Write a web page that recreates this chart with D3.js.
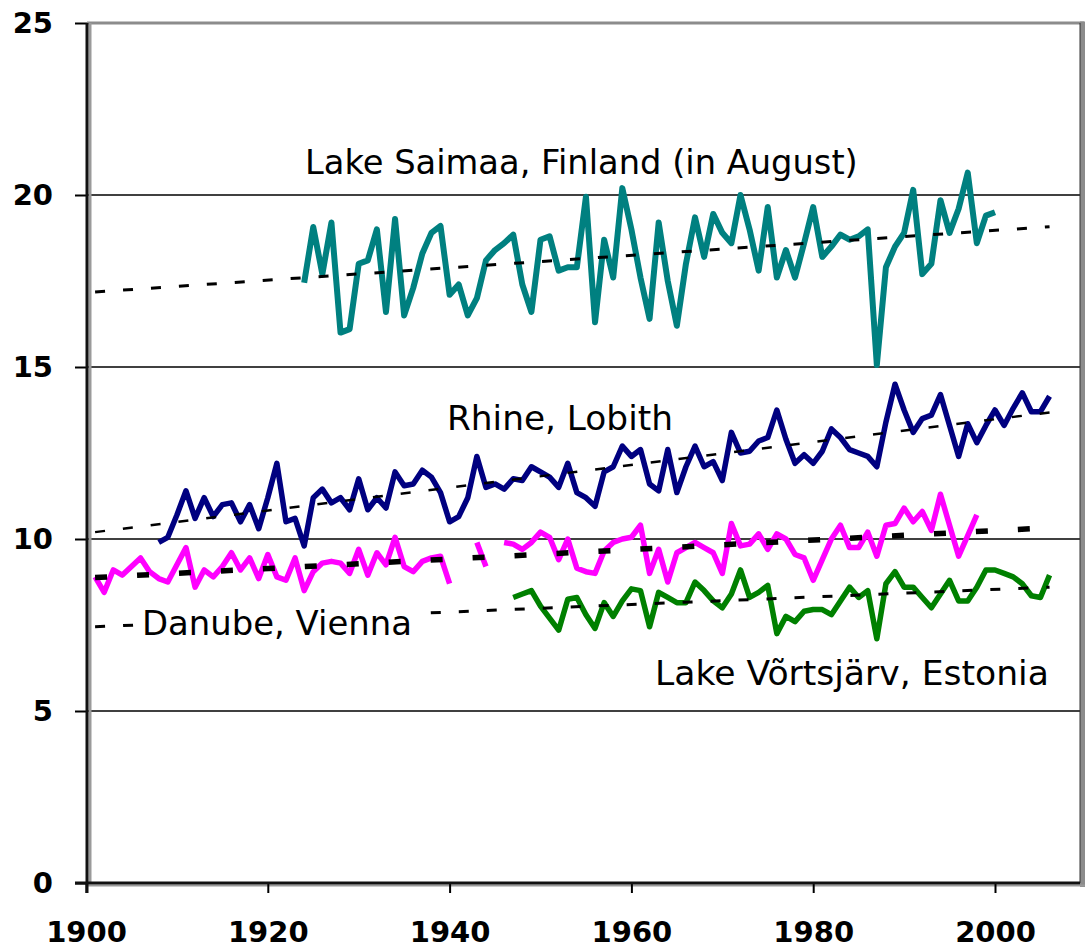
<!DOCTYPE html>
<html>
<head>
<meta charset="utf-8">
<script src="https://cdn.jsdelivr.net/npm/d3@7"></script>
<style>
  body { margin: 0; background: #fff; }
  svg { display: block; }
</style>
</head>
<body>
<svg id="chart" width="1089" height="950"></svg>
<script>
// Long-term water temperature records (°C) — yearly values, first year given separately
const saimaaStart = 1924; // Lake Saimaa, Finland (August)
const saimaaTemp = [
  17.45, 19.07, 17.7, 19.2, 16.0, 16.1, 18.0, 18.1, 19.0, 16.6,
  19.3, 16.5, 17.3, 18.3, 18.9, 19.1, 17.1, 17.4, 16.5, 17.0,
  18.1, 18.4, 18.6, 18.85, 17.4, 16.6, 18.7, 18.8, 17.8, 17.9,
  17.9, 19.95, 16.3, 18.7, 17.6, 20.2, 19.0, 17.6, 16.4, 19.2,
  17.5, 16.2, 18.0, 19.35, 18.2, 19.45, 18.9, 18.6, 20.0, 19.0,
  17.8, 19.65, 17.6, 18.4, 17.6, 18.6, 19.65, 18.2, 18.5, 18.85,
  18.7, 18.8, 19.0, 15.06, 17.9, 18.5, 18.9, 20.15, 17.7, 18.0,
  19.85, 18.9, 19.6, 20.65, 18.6, 19.4, 19.5
];

const rhineStart = 1908; // Rhine at Lobith
const rhineTemp = [
  9.9, 10.05, 10.7, 11.4, 10.6, 11.2, 10.65, 11.0, 11.05, 10.5,
  11.0, 10.3, 11.2, 12.2, 10.5, 10.6, 9.8, 11.2, 11.45, 11.05,
  11.2, 10.85, 11.75, 10.85, 11.2, 10.9, 11.95, 11.55, 11.6, 12.0,
  11.8, 11.35, 10.5, 10.65, 11.2, 12.4, 11.5, 11.6, 11.45, 11.75,
  11.7, 12.1, 11.95, 11.8, 11.5, 12.2, 11.35, 11.2, 10.95, 11.95,
  12.1, 12.7, 12.4, 12.6, 11.6, 11.4, 12.6, 11.35, 12.1, 12.7,
  12.1, 12.25, 11.7, 13.1, 12.5, 12.55, 12.85, 12.95, 13.75, 12.9,
  12.2, 12.45, 12.2, 12.55, 13.2, 12.95, 12.6, 12.5, 12.4, 12.1,
  13.4, 14.5, 13.75, 13.1, 13.5, 13.6, 14.2, 13.3, 12.4, 13.35,
  12.8, 13.3, 13.75, 13.3, 13.8, 14.25, 13.7, 13.7, 14.15
];

const danubeStart = 1901; // Danube at Vienna (null = no record)
const danubeTemp = [
  8.9, 8.45, 9.1, 8.95, 9.2, 9.45, 9.05, 8.85, 8.75, 9.25,
  9.75, 8.6, 9.1, 8.9, 9.2, 9.6, 9.1, 9.45, 8.85, 9.55,
  8.9, 8.8, 9.45, 8.5, 9.05, 9.3, 9.35, 9.3, 9.0, 9.7,
  8.95, 9.6, 9.25, 10.05, 9.2, 9.05, 9.35, 9.45, 9.5, 8.7,
  null, null, 9.9, 9.2, null, 9.9, 9.85, 9.7, 9.9, 10.2,
  10.05, 9.4, 10.0, 9.15, 9.05, 9.0, 9.65, 9.9, 10.0, 10.05,
  10.4, 9.0, 9.7, 8.75, 9.6, 9.75, 9.9, 9.75, 9.6, 9.0,
  10.45, 9.8, 9.85, 10.15, 9.7, 10.15, 10.0, 9.55, 9.45, 8.8,
  9.4, 10.0, 10.4, 9.75, 9.75, 10.2, 9.5, 10.4, 10.45, 10.9,
  10.5, 10.8, 10.25, 11.3, 10.4, 9.5, 10.1, 10.7
];

const vortsStart = 1947; // Lake Võrtsjärv, Estonia
const vortsTemp = [
  8.3, 8.4, 8.5, 8.05, 7.7, 7.35, 8.25, 8.3, 7.8, 7.4,
  8.15, 7.75, 8.2, 8.55, 8.5, 7.45, 8.45, 8.3, 8.15, 8.15,
  8.75, 8.5, 8.2, 8.0, 8.4, 9.1, 8.3, 8.45, 8.65, 7.25,
  7.75, 7.6, 7.9, 7.95, 7.95, 7.8, 8.2, 8.6, 8.3, 8.5,
  7.1, 8.7, 9.05, 8.6, 8.6, 8.3, 8.0, 8.4, 8.8, 8.2,
  8.2, 8.6, 9.1, 9.1, 9.0, 8.9, 8.7, 8.35, 8.3, 8.95
];

// Linear trends: [start year, end year] and [start value, end value]
const saimaaTrendYears = [1901, 2006];
const saimaaTrendVals = [17.18, 19.08];
const rhineTrendYears = [1901, 2006];
const rhineTrendVals = [10.2, 13.68];
const danubeTrendYears = [1901, 2004];
const danubeTrendVals = [8.88, 10.3];
const vortsTrendYears = [1901, 2006];
const vortsTrendVals = [7.45, 8.6];

const yTicks = [0, 5, 10, 15, 20, 25];
const xTicks = [1900, 1920, 1940, 1960, 1980, 2000];
const gridVals = [5, 10, 15, 20];

const svg = d3.select("#chart");
const plotLeft = 87, plotRight = 1080, plotTop = 23, plotBottom = 883;

const x = d3.scaleLinear().domain([1900, 2000]).range([86, 995]);
const y = d3.scaleLinear().domain([0, 25]).range([plotBottom, plotTop]);

const toPoints = (start, vals) => vals.map((v, i) => ({ year: start + i, v }));
const pairPoints = (years, vals) => years.map((yr, i) => ({ year: yr, v: vals[i] }));

const line = d3.line()
  .defined(d => d.v !== null)
  .x(d => x(d.year))
  .y(d => y(d.v));

// Gridlines
svg.append("g").selectAll("line").data(gridVals).join("line")
  .attr("x1", plotLeft).attr("x2", plotRight)
  .attr("y1", d => y(d)).attr("y2", d => y(d))
  .attr("stroke", "#000").attr("stroke-width", 1.3);

// Top and right borders (grey)
svg.append("line").attr("x1", plotLeft).attr("x2", plotRight + 4).attr("y1", plotTop).attr("y2", plotTop)
  .attr("stroke", "#8c8c8c").attr("stroke-width", 3);
svg.append("line").attr("x1", plotRight + 2.5).attr("x2", plotRight + 2.5).attr("y1", plotTop - 1.5).attr("y2", plotBottom + 4)
  .attr("stroke", "#8c8c8c").attr("stroke-width", 5);
svg.append("line").attr("x1", plotRight).attr("x2", plotRight).attr("y1", plotTop).attr("y2", plotBottom)
  .attr("stroke", "#333").attr("stroke-width", 1);

// Axis shadows
svg.append("line").attr("x1", plotLeft + 3).attr("x2", plotLeft + 3).attr("y1", plotTop).attr("y2", plotBottom)
  .attr("stroke", "#9a9a9a").attr("stroke-width", 3);
svg.append("line").attr("x1", plotLeft).attr("x2", plotRight + 5).attr("y1", plotBottom + 2.5).attr("y2", plotBottom + 2.5)
  .attr("stroke", "#9a9a9a").attr("stroke-width", 2);

// Series
const series = [
  { pts: toPoints(saimaaStart, saimaaTemp), color: "#008080", w: 6 },
  { pts: toPoints(rhineStart, rhineTemp), color: "#000080", w: 5.5 },
  { pts: toPoints(danubeStart, danubeTemp), color: "#ff00ff", w: 5.5 },
  { pts: toPoints(vortsStart, vortsTemp), color: "#008000", w: 5.5 }
];
svg.append("g").selectAll("path").data(series).join("path")
  .attr("d", d => line(d.pts))
  .attr("fill", "none")
  .attr("stroke", d => d.color)
  .attr("stroke-width", d => d.w)
  .attr("stroke-linejoin", "round")
  .attr("stroke-linecap", "butt");

// Trend lines (dashed)
const trends = [
  { pts: pairPoints(saimaaTrendYears, saimaaTrendVals), w: 3, dash: "10,18" },
  { pts: pairPoints(rhineTrendYears, rhineTrendVals), w: 2.5, dash: "10,18" },
  { pts: pairPoints(danubeTrendYears, danubeTrendVals), w: 5.5, dash: "12,30" },
  { pts: pairPoints(vortsTrendYears, vortsTrendVals), w: 3, dash: "10,18" }
];
svg.append("g").selectAll("path").data(trends).join("path")
  .attr("d", d => line(d.pts))
  .attr("fill", "none")
  .attr("stroke", "#000")
  .attr("stroke-width", d => d.w)
  .attr("stroke-dasharray", d => d.dash);

// Axes
const yAxis = d3.axisLeft(y).tickValues(yTicks).tickSize(12).tickPadding(22).tickFormat(d3.format("d"));
const xAxis = d3.axisBottom(x).tickValues(xTicks).tickSize(10).tickPadding(28).tickFormat(d3.format("d"));

const gy = svg.append("g").attr("transform", `translate(${plotLeft},0)`).call(yAxis);
const gx = svg.append("g").attr("transform", `translate(0,${plotBottom})`).call(xAxis);
[gx, gy].forEach(g => {
  g.select(".domain").remove();
  g.selectAll(".tick line").attr("stroke", "#000").attr("stroke-width", 2);
  g.selectAll("text")
    .attr("fill", "#000")
    .style("font-family", "'DejaVu Sans', sans-serif")
    .style("font-weight", "bold")
    .style("font-size", "29px");
});
svg.append("line").attr("x1", plotLeft).attr("x2", plotLeft).attr("y1", plotTop).attr("y2", plotBottom + 10)
  .attr("stroke", "#111").attr("stroke-width", 3);
svg.append("line").attr("x1", plotLeft - 12).attr("x2", plotRight).attr("y1", plotBottom).attr("y2", plotBottom)
  .attr("stroke", "#111").attr("stroke-width", 3);

// Series labels, sized to fill their spans
const labels = [
  { text: "Lake Saimaa, Finland (in August)", x0: 305, x1: 858, base: 174, box: false },
  { text: "Rhine, Lobith", x0: 447, x1: 673, base: 430, box: false },
  { text: "Danube, Vienna", x0: 142, x1: 412, base: 635, box: true },
  { text: "Lake Võrtsjärv, Estonia", x0: 655, x1: 1049, base: 685, box: true }
];
labels.forEach(l => {
  const g = svg.append("g");
  const t = g.append("text")
    .attr("x", l.x0).attr("y", l.base)
    .attr("fill", "#000")
    .style("font-family", "'DejaVu Sans', sans-serif")
    .style("font-size", "28px")
    .text(l.text);
  const len = t.node().getComputedTextLength();
  t.style("font-size", (28 * (l.x1 - l.x0) / len) + "px");
  if (l.box) {
    const bb = t.node().getBBox();
    g.insert("rect", "text")
      .attr("x", bb.x - 5).attr("y", bb.y)
      .attr("width", bb.width + 10).attr("height", bb.height)
      .attr("fill", "#fff");
  }
});
</script>
</body>
</html>
